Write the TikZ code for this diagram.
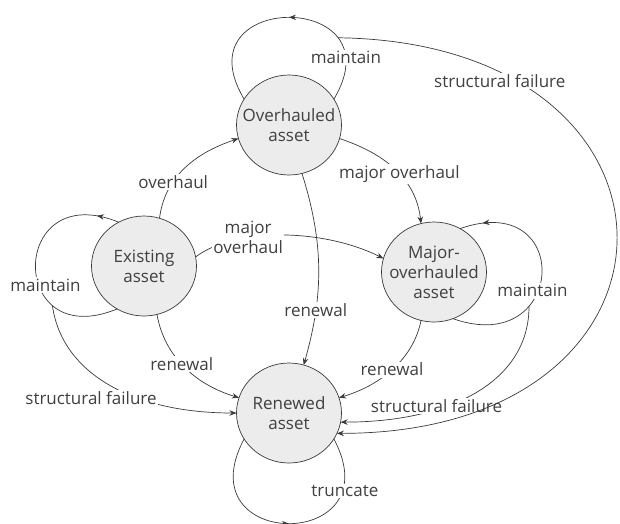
\documentclass[tikz,border=0pt]{standalone}
\usepackage{fontspec}
\setmainfont{Open Sans}
\usetikzlibrary{shapes.geometric,arrows.meta,decorations.markings}
\definecolor{txt}{RGB}{64,64,64}
\definecolor{ln}{RGB}{58,58,58}
\definecolor{nfill}{RGB}{236,236,236}
\newcommand\figfont{\fontsize{17}{20}\selectfont}
\begin{document}
\begin{tikzpicture}[x=1pt,y=1pt,
  state/.style={ellipse,draw=ln,fill=nfill,line width=0.7pt,minimum width=105pt,minimum height=100pt,inner xsep=-30pt,inner ysep=0pt,outer sep=0pt,align=center,text=txt,font=\figfont},
  lab/.style={fill=white,inner sep=1.5pt,text=txt,font=\figfont,align=center},
  conn/.style={draw,color=ln,line width=0.7pt,-{Stealth[length=7pt,width=5.5pt]}},
  loopar/.style={draw,color=ln,line width=0.7pt,postaction={decorate,decoration={markings,mark=at position #1 with {\arrow{Stealth[length=7pt,width=5.5pt]}}}}}
]
\useasboundingbox (0,0) rectangle (620,-523);

% states
\node[state] (O) at (289,-125) {Overhauled\\asset};
\node[state] (E) at (144,-266) {Existing\\asset};
\node[state] (M) at (434,-272) {Major-\\overhauled\\asset};
\node[state] (R) at (289,-413) {Renewed\\asset};

% self loops
\path[loopar=0.5] (O.30) .. controls +(65,109) and +(-65,109) .. (O.150)
  node[lab,pos=0.15] (lo) {maintain} coordinate[pos=0.25] (osf);
\path[loopar=0.1] (E.120) .. controls +(-110,45) and +(-110,-45) .. (E.238)
  node[lab,pos=0.6,xshift=7pt] (le) {maintain} coordinate[pos=0.73] (esf);
\path[loopar=0.9] (M.292) .. controls +(114,-40) and +(114,40) .. (M.59)
  node[lab,pos=0.4,xshift=-5pt,yshift=2pt] (lm) {maintain} coordinate[pos=0.32] (msf);
\path[loopar=0.5] (R.210) .. controls +(-60,-113) and +(60,-113) .. (R.330)
  node[lab,pos=0.8,xshift=3pt,yshift=2pt] (lr) {truncate};

% transitions
\path[conn] (E.72) .. controls +(5,40) and +(-45,-15) .. (O.195)
  node[lab,pos=0.35] (l1) {overhaul};
\path[conn] (E.10) .. controls +(40,30) and +(-60,30) .. (M.165)
  node[lab,pos=0.33] (l2) {major\\overhaul};
\path[conn] (O.-15) .. controls +(45,-15) and +(-5,45) .. (M.105)
  node[lab,pos=0.55] (l3) {major overhaul};
\path[conn] (O.-75) .. controls +(22,-70) and +(20,70) .. (R.73)
  node[lab,pos=0.72] (l4) {renewal};
\path[conn] (E.-75) .. controls +(8,-45) and +(-40,12) .. (R.163)
  node[lab,pos=0.45] (l5) {renewal};
\path[conn] (M.-105) .. controls +(-8,-40) and +(40,12) .. (R.17)
  node[lab,pos=0.5] (l6) {renewal};
\path[conn] (esf) .. controls +(10,-70) and +(-100,0) .. (R.180);
\node[lab] (l7) at (91,-398) {structural failure};
\path[conn] (msf) .. controls +(0,-75) and +(110,0) .. (R.-10)
  node[lab,pos=0.67,xshift=-1pt,yshift=3pt] (l8) {structural failure};
\path[conn] (osf) .. controls +(372,-5) and +(372,0) .. (R.-23)
  node[lab,pos=0.19,xshift=-10pt,yshift=-4pt] (l9) {structural failure};
\end{tikzpicture}
\end{document}
